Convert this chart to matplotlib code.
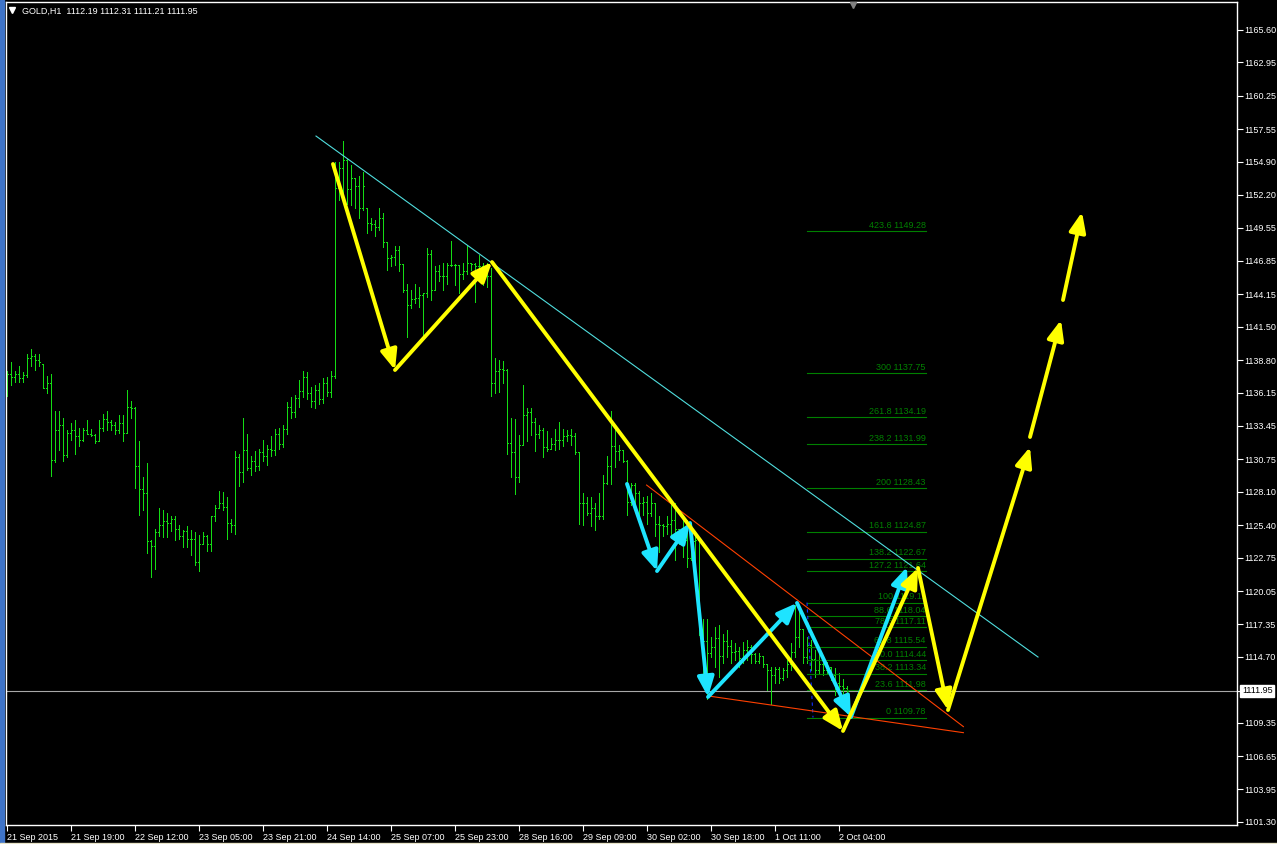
import numpy as np
import matplotlib
matplotlib.use("Agg")
import matplotlib.pyplot as plt
from matplotlib.collections import LineCollection
from matplotlib.lines import Line2D
from matplotlib.patches import Rectangle
import matplotlib.transforms as mtrans

plt.rcParams['font.family'] = ['Liberation Sans', 'DejaVu Sans']

# GOLD H1 bars (index 0 = 21 Sep 2015)
opens = [
    1137.8, 1137.7, 1137.4, 1137.7, 1137.3, 1137.6, 1139.0, 1139.1, 1138.8, 1138.5,
    1136.5, 1136.9, 1130.7, 1133.1, 1133.5, 1131.1, 1132.9, 1133.1, 1132.6, 1132.3,
    1133.1, 1132.8, 1132.7, 1132.2, 1133.3, 1134.0, 1133.8, 1133.5, 1133.1, 1133.7,
    1132.9, 1135.0, 1134.9, 1130.2, 1128.3, 1128.0, 1124.1, 1123.7, 1124.8, 1125.4,
    1125.7, 1125.6, 1125.9, 1125.1, 1124.5, 1124.9, 1124.3, 1124.3, 1122.4, 1123.9,
    1124.5, 1123.9, 1126.1, 1126.8, 1127.2, 1126.9, 1125.6, 1125.4, 1130.9, 1129.7,
    1131.5, 1130.0, 1130.6, 1130.2, 1131.3, 1131.0, 1131.6, 1131.5, 1132.8, 1132.0,
    1133.2, 1135.0, 1134.6, 1135.7, 1136.3, 1137.4, 1136.1, 1135.5, 1136.4, 1135.6,
    1136.9, 1136.2, 1137.5, 1152.8, 1154.4, 1155.0, 1152.7, 1153.6, 1152.9, 1151.1,
    1151.1, 1149.9, 1149.8, 1149.6, 1150.3, 1148.35, 1147.05, 1147.2, 1147.7, 1146.6,
    1144.5, 1143.3, 1143.75, 1143.8, 1144.1, 1144.2, 1147.4, 1144.5, 1146.0, 1145.6,
    1145.6, 1146.5, 1146.5, 1146.5, 1145.8, 1146.0, 1146.65, 1146.6, 1146.4, 1146.4,
    1146.4, 1145.6, 1136.9, 1137.9, 1138.1, 1138.0, 1132.1, 1131.3, 1129.3, 1131.9,
    1134.3, 1134.6, 1133.8, 1132.8, 1133.1, 1131.7, 1131.6, 1132.0, 1132.3, 1132.3,
    1132.6, 1132.7, 1132.6, 1131.3, 1127.2, 1127.2, 1126.4, 1126.8, 1126.1, 1126.1,
    1128.85, 1130.2, 1131.8, 1131.4, 1131.5, 1130.6, 1127.3, 1128.65, 1128.0, 1127.2,
    1127.3, 1126.4, 1127.2, 1125.5, 1125.4, 1125.3, 1125.5, 1125.8, 1125.1, 1124.9,
    1124.2, 1122.7, 1124.1, 1124.2, 1116.6, 1116.0, 1115.0, 1115.5, 1116.2, 1114.8,
    1116.0, 1115.6, 1115.1, 1115.2, 1114.6, 1115.3, 1115.5, 1114.9, 1114.4, 1114.8,
    1114.1, 1113.6, 1113.2, 1113.7, 1113.0, 1113.6, 1114.1, 1115.1, 1116.3, 1117.0,
    1114.7, 1115.7, 1114.5, 1113.6, 1114.1, 1113.6, 1113.9, 1113.2, 1112.6, 1112.3, 1112.19,
]
highs = [
    1137.9, 1138.6, 1137.9, 1138.3, 1137.8, 1139.3, 1139.7, 1139.3, 1139.3, 1138.5,
    1137.5, 1137.7, 1134.7, 1134.7, 1134.1, 1133.1, 1133.7, 1133.9, 1133.3, 1133.3,
    1133.9, 1133.2, 1132.8, 1133.9, 1134.4, 1134.7, 1133.9, 1133.8, 1134.3, 1134.3,
    1136.4, 1135.5, 1135.0, 1132.2, 1129.3, 1130.4, 1124.2, 1125.1, 1126.8, 1126.6,
    1126.4, 1126.1, 1126.1, 1125.4, 1125.0, 1125.3, 1125.0, 1124.8, 1124.6, 1124.8,
    1124.6, 1126.1, 1127.0, 1128.2, 1128.1, 1127.7, 1125.9, 1131.4, 1131.2, 1134.1,
    1132.8, 1131.0, 1131.4, 1131.6, 1132.3, 1131.9, 1132.6, 1133.2, 1133.3, 1133.5,
    1135.4, 1135.8, 1136.0, 1137.2, 1137.9, 1137.8, 1136.6, 1136.8, 1136.9, 1137.3,
    1137.4, 1137.9, 1154.9, 1154.85, 1156.6, 1155.1, 1154.6, 1153.6, 1153.7, 1154.1,
    1151.1, 1150.3, 1150.2, 1151.1, 1150.7, 1148.4, 1147.3, 1148.05, 1148.05, 1146.6,
    1145.0, 1144.5, 1145.0, 1144.75, 1144.2, 1147.9, 1147.7, 1146.4, 1146.5, 1146.7,
    1146.7, 1148.5, 1146.6, 1146.5, 1146.7, 1148.1, 1146.7, 1146.7, 1147.3, 1146.65,
    1146.65, 1146.3, 1139.0, 1138.8, 1138.7, 1138.05, 1134.1, 1134.0, 1132.7, 1136.8,
    1134.9, 1134.9, 1134.1, 1133.5, 1133.3, 1133.0, 1132.5, 1133.2, 1133.8, 1133.2,
    1133.1, 1133.2, 1132.9, 1131.3, 1128.0, 1127.7, 1127.7, 1127.2, 1128.0, 1129.5,
    1131.0, 1134.7, 1133.3, 1131.9, 1131.5, 1130.7, 1128.84, 1128.84, 1128.2, 1127.7,
    1127.8, 1128.0, 1127.2, 1126.1, 1125.5, 1126.1, 1127.3, 1127.2, 1125.1, 1125.8,
    1125.8, 1125.4, 1124.5, 1124.2, 1117.8, 1117.8, 1116.3, 1117.15, 1117.3, 1116.6,
    1116.9, 1116.1, 1115.8, 1115.5, 1115.9, 1116.1, 1115.7, 1115.0, 1115.0, 1114.8,
    1114.1, 1113.9, 1113.9, 1113.9, 1113.8, 1114.45, 1115.8, 1118.9, 1118.8, 1117.0,
    1116.3, 1116.1, 1115.3, 1115.0, 1114.2, 1114.3, 1113.9, 1113.8, 1113.4, 1112.9, 1112.31,
]
lows = [
    1135.9, 1136.8, 1137.0, 1137.0, 1137.0, 1137.4, 1138.3, 1138.0, 1138.3, 1136.5,
    1136.1, 1129.4, 1130.5, 1131.5, 1130.6, 1130.9, 1132.3, 1131.2, 1131.8, 1132.2,
    1132.8, 1132.6, 1132.1, 1132.2, 1133.0, 1133.1, 1133.1, 1132.8, 1132.9, 1132.2,
    1132.9, 1134.1, 1128.4, 1126.2, 1126.6, 1123.1, 1121.2, 1121.8, 1124.5, 1124.4,
    1124.4, 1124.9, 1124.2, 1124.3, 1123.6, 1123.6, 1123.0, 1122.2, 1121.7, 1123.9,
    1123.3, 1123.3, 1125.7, 1126.8, 1126.6, 1124.3, 1124.8, 1124.7, 1128.6, 1128.9,
    1129.9, 1129.5, 1129.8, 1129.9, 1130.6, 1130.3, 1131.0, 1131.1, 1131.6, 1131.7,
    1132.8, 1134.1, 1134.2, 1135.0, 1135.8, 1135.6, 1135.0, 1134.9, 1135.2, 1135.3,
    1135.9, 1135.8, 1137.3, 1151.8, 1152.1, 1151.5, 1151.4, 1151.1, 1150.3, 1151.0,
    1149.1, 1149.35, 1148.9, 1149.35, 1148.0, 1146.1, 1146.4, 1146.5, 1146.0, 1144.35,
    1140.7, 1143.0, 1143.4, 1143.1, 1140.7, 1143.9, 1143.7, 1144.5, 1145.2, 1144.5,
    1145.0, 1146.4, 1144.9, 1144.2, 1145.4, 1145.8, 1146.1, 1143.5, 1145.6, 1144.9,
    1144.75, 1135.9, 1136.15, 1136.2, 1136.9, 1131.2, 1129.3, 1127.9, 1128.9, 1131.9,
    1132.2, 1132.7, 1131.4, 1132.45, 1130.95, 1131.4, 1131.55, 1131.5, 1131.55, 1131.8,
    1132.2, 1131.9, 1131.2, 1125.5, 1125.4, 1126.2, 1125.3, 1125.0, 1125.9, 1125.9,
    1128.7, 1128.7, 1130.1, 1130.7, 1130.55, 1126.2, 1127.03, 1126.9, 1126.1, 1126.2,
    1125.5, 1126.1, 1124.5, 1123.2, 1124.5, 1124.7, 1124.6, 1122.6, 1123.9, 1122.8,
    1122.0, 1122.6, 1122.0, 1116.5, 1112.3, 1111.3, 1114.7, 1113.9, 1113.1, 1114.2,
    1114.7, 1114.2, 1114.45, 1113.9, 1114.2, 1114.45, 1114.2, 1114.2, 1114.2, 1113.9,
    1112.0, 1110.9, 1112.55, 1112.55, 1112.8, 1113.1, 1113.6, 1114.7, 1115.5, 1114.2,
    1114.2, 1113.6, 1113.1, 1113.3, 1113.2, 1113.3, 1112.8, 1111.6, 1112.0, 1111.7, 1111.21,
]
closes = [
    1137.7, 1137.4, 1137.7, 1137.3, 1137.6, 1139.0, 1139.1, 1138.8, 1138.6, 1136.5,
    1136.9, 1130.7, 1133.1, 1133.5, 1131.1, 1132.9, 1133.1, 1132.6, 1132.3, 1133.1,
    1132.8, 1132.7, 1132.2, 1133.3, 1134.0, 1133.8, 1133.5, 1133.1, 1133.7, 1132.9,
    1135.0, 1134.9, 1130.2, 1128.3, 1128.0, 1124.1, 1123.7, 1124.8, 1125.4, 1125.7,
    1125.6, 1125.9, 1125.1, 1124.5, 1124.9, 1124.3, 1124.3, 1122.4, 1123.9, 1124.5,
    1123.9, 1126.1, 1126.8, 1127.2, 1126.9, 1125.6, 1125.4, 1130.9, 1129.7, 1131.5,
    1130.0, 1130.6, 1130.2, 1131.3, 1131.0, 1131.6, 1131.5, 1132.8, 1132.0, 1133.2,
    1135.0, 1134.6, 1135.7, 1136.3, 1137.4, 1136.1, 1135.5, 1136.4, 1135.6, 1136.9,
    1136.2, 1137.5, 1152.8, 1154.4, 1155.0, 1152.7, 1153.6, 1152.9, 1151.1, 1152.9,
    1149.9, 1149.8, 1149.6, 1150.3, 1148.35, 1147.05, 1147.2, 1147.7, 1146.6, 1144.5,
    1143.3, 1143.75, 1143.8, 1144.1, 1144.2, 1147.4, 1144.5, 1146.0, 1145.6, 1145.6,
    1146.5, 1146.5, 1146.5, 1145.8, 1146.0, 1146.65, 1146.6, 1146.4, 1146.4, 1146.4,
    1145.6, 1136.9, 1137.9, 1138.1, 1138.0, 1132.1, 1131.3, 1129.3, 1131.9, 1134.3,
    1134.6, 1133.8, 1132.8, 1133.1, 1131.7, 1131.6, 1132.0, 1132.3, 1132.3, 1132.6,
    1132.7, 1132.6, 1131.3, 1127.2, 1127.2, 1126.4, 1126.8, 1126.1, 1126.1, 1128.85,
    1130.2, 1131.8, 1131.4, 1131.5, 1130.6, 1127.3, 1128.65, 1128.0, 1127.2, 1127.3,
    1126.4, 1127.2, 1125.5, 1125.4, 1125.3, 1125.5, 1125.8, 1125.1, 1124.9, 1124.2,
    1122.7, 1124.1, 1124.2, 1116.6, 1116.0, 1115.0, 1115.5, 1116.2, 1114.8, 1116.0,
    1115.6, 1115.1, 1115.2, 1114.6, 1115.3, 1115.5, 1114.9, 1114.4, 1114.8, 1114.1,
    1113.6, 1113.2, 1113.7, 1113.0, 1113.6, 1114.1, 1115.1, 1116.3, 1117.0, 1114.7,
    1115.7, 1114.5, 1113.6, 1114.1, 1113.6, 1113.9, 1113.2, 1112.6, 1112.3, 1112.2, 1111.95,
]

time_labels = ["21 Sep 2015", "21 Sep 19:00", "22 Sep 12:00", "23 Sep 05:00",
               "23 Sep 21:00", "24 Sep 14:00", "25 Sep 07:00", "25 Sep 23:00",
               "28 Sep 16:00", "29 Sep 09:00", "30 Sep 02:00", "30 Sep 18:00",
               "1 Oct 11:00", "2 Oct 04:00"]
time_label_bars = [0, 16, 32, 48, 64, 80, 96, 112, 128, 144, 160, 176, 192, 208]

price_ticks = [1165.60, 1162.95, 1160.25, 1157.55, 1154.90, 1152.20, 1149.55,
               1146.85, 1144.15, 1141.50, 1138.80, 1136.15, 1133.45, 1130.75,
               1128.10, 1125.40, 1122.75, 1120.05, 1117.35, 1114.70, 1109.35,
               1106.65, 1103.95, 1101.30]
last_price = 1111.95

# fibonacci levels
fib_ratio = ["423.6", "300", "261.8", "238.2", "200", "161.8", "138.2", "127.2",
             "100", "88.6", "78.6", "61.8", "50.0", "38.2", "23.6", "0"]
fib_price = [1149.28, 1137.75, 1134.19, 1131.99, 1128.43, 1124.87, 1122.67, 1121.64,
             1119.11, 1118.04, 1117.11, 1115.54, 1114.44, 1113.34, 1111.98, 1109.78]
fib_x0, fib_x1 = 200.0, 229.7

# drawn objects (bar index, price)
cyan_trend = [(77.25, 1156.98), (257.75, 1114.69)]
red_upper = [(159.9, 1128.65), (239.1, 1109.04)]
red_lower = [(175.3, 1111.53), (239.1, 1108.55)]
fib_anchor = [(200.0, 1119.11), (201.5, 1109.78)]

cyan_wave_x = [155.0, 162.5, 170.75, 175.25, 197.5, 211.0, 225.0]
cyan_wave_y = [1128.74, 1121.67, 1125.57, 1111.45, 1119.08, 1109.82, 1122.0]

yellow_wave_x = [81.5, 97.0, 121.25, 209.0, 227.75, 235.25, 255.75]
yellow_wave_y = [1154.71, 1137.99, 1146.75, 1108.69, 1121.92, 1110.39, 1131.74]
yellow_extra = [((255.75, 1132.55), (263.5, 1142.05)),
                ((264.0, 1143.67), (268.75, 1150.81))]

W, H = 1277, 844
fig = plt.figure(figsize=(W / 100, H / 100), dpi=100, facecolor="black")
ax = fig.add_axes([6 / W, (H - 825) / H, (1237 - 6) / W, (825 - 2) / H], facecolor="black")
ax.set_xlim(-0.25, 307.5)
ax.set_ylim(1101.056, 1167.86)

# current price line
ax.axhline(last_price, color="#a8a8a8", lw=0.8, zorder=1)

# OHLC bars
segs = []
for i in range(len(closes)):
    segs.append([(i, lows[i]), (i, highs[i])])
    segs.append([(i - 0.3, opens[i]), (i, opens[i])])
    segs.append([(i, closes[i]), (i + 0.3, closes[i])])
ax.add_collection(LineCollection(segs, colors="#14dc14", linewidths=0.7,
                                 antialiaseds=False, zorder=2))

# fibonacci
fib_col = "#008000"
for r, p in zip(fib_ratio, fib_price):
    ax.plot([fib_x0, fib_x1], [p, p], color=fib_col, lw=0.8, zorder=3)
    ax.text(fib_x1, p + 0.1, f"{r} {p:.2f}", color=fib_col, fontsize=6.5,
            ha="right", va="bottom", zorder=3)
ax.plot(*zip(*fib_anchor), color="#1030ff", lw=0.8, ls=(0, (3, 3)), zorder=3)

# trend lines
ax.plot(*zip(*cyan_trend), color="#50dede", lw=0.8, zorder=4)
ax.plot(*zip(*red_upper), color="#ff4000", lw=0.8, zorder=4)
ax.plot(*zip(*red_lower), color="#ff4000", lw=0.8, zorder=4)


def arrow(p0, p1, col, z):
    ax.annotate("", xy=p1, xytext=p0, zorder=z,
                arrowprops=dict(arrowstyle="-|>,head_length=1.2,head_width=0.5",
                                color=col, lw=2.8, shrinkA=0, shrinkB=0,
                                mutation_scale=10))


for k in range(len(cyan_wave_x) - 1):
    arrow((cyan_wave_x[k], cyan_wave_y[k]), (cyan_wave_x[k + 1], cyan_wave_y[k + 1]),
          "#1ee4ff", 5)
for k in range(len(yellow_wave_x) - 1):
    arrow((yellow_wave_x[k], yellow_wave_y[k]), (yellow_wave_x[k + 1], yellow_wave_y[k + 1]),
          "#ffff00", 6)
for p0, p1 in yellow_extra:
    arrow(p0, p1, "#ffff00", 6)

# axes look
for s in ax.spines.values():
    s.set_color("white")
    s.set_linewidth(1)
ax.yaxis.tick_right()
ax.set_yticks(price_ticks)
ax.set_yticklabels([f"{v:.2f}" for v in price_ticks])
ax.set_xticks(time_label_bars)
ax.set_xticklabels(time_labels, ha="left")
ax.tick_params(axis="both", colors="white", labelsize=6.5, length=4, width=0.8,
               direction="out")
ax.tick_params(axis="y", pad=1.5)
ax.tick_params(axis="x", pad=1.5)

# current price box on the axis
tr = mtrans.blended_transform_factory(ax.transAxes, ax.transData)
ax.plot([1.0, 1.003], [last_price, last_price], color="white", lw=0.8,
        transform=tr, clip_on=False)
ax.text(1.004, last_price, f"{last_price:.2f}", transform=tr, color="black",
        fontsize=6.5, va="center", ha="left", clip_on=False,
        bbox=dict(facecolor="white", edgecolor="white", pad=1.2))

# header
fig.add_artist(Line2D([12 / W], [1 - 10 / H], marker="v", color="white",
                      markersize=4, transform=fig.transFigure))
fig.text(22 / W, 1 - 11 / H, "GOLD,H1  1112.19 1112.31 1111.21 1111.95",
         color="white", fontsize=6.5, va="center", ha="left")
# chart shift marker
fig.add_artist(Line2D([853 / W], [1 - 5 / H], marker="v", color="#808080",
                      markersize=5, transform=fig.transFigure))
# window edge
fig.add_artist(Rectangle((0, 0), 4 / W, 1, transform=fig.transFigure,
                         color="#3f74c8", zorder=10))
fig.add_artist(Rectangle((0, 0), 1, 1 / H, transform=fig.transFigure,
                         color="#e8e4c8", zorder=10))

fig.savefig("out.png", dpi=100, facecolor="black")
